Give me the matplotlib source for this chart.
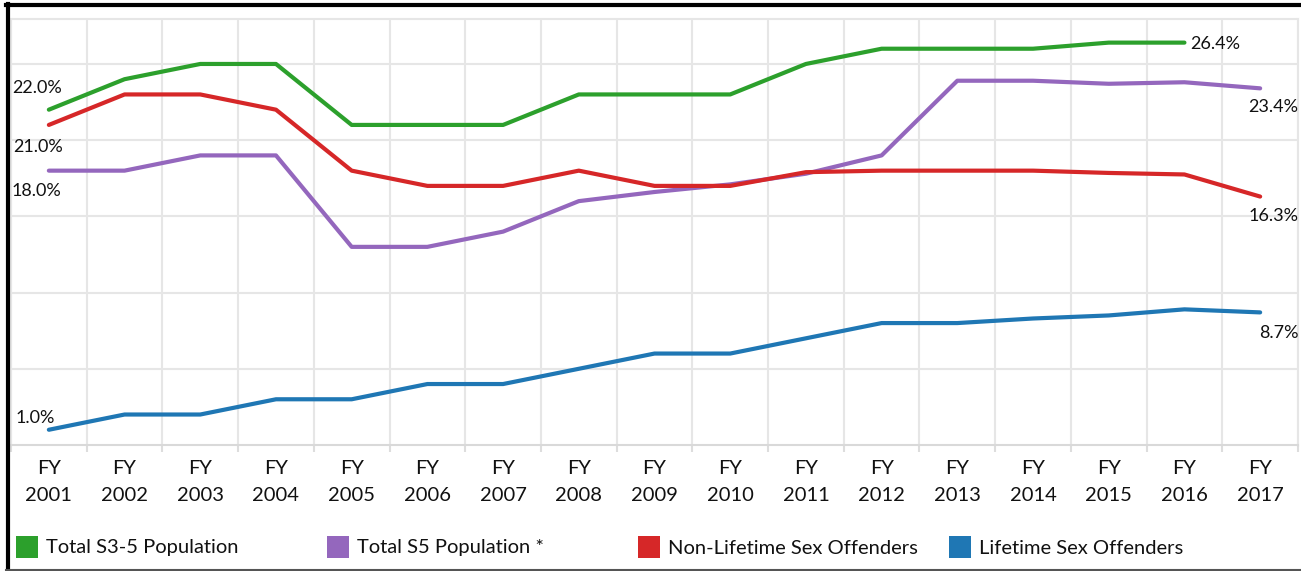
import numpy as np
import matplotlib.pyplot as plt
from matplotlib.patches import Rectangle
from matplotlib.lines import Line2D

'''data'''
years = ['FY\n%d' % y for y in range(2001, 2018)]
total_s35 = [22.0, 24.0, 25.0, 25.0, 21.0, 21.0, 21.0, 23.0, 23.0, 23.0, 25.0, 26.0, 26.0, 26.0, 26.4, 26.4, np.nan]
total_s5 = [18.0, 18.0, 19.0, 19.0, 13.0, 13.0, 14.0, 16.0, 16.6, 17.1, 17.8, 19.0, 23.9, 23.9, 23.7, 23.8, 23.4]
non_lifetime = [21.0, 23.0, 23.0, 22.0, 18.0, 17.0, 17.0, 18.0, 17.0, 17.0, 17.9, 18.0, 18.0, 18.0, 17.85, 17.75, 16.3]
lifetime = [1.0, 2.0, 2.0, 3.0, 3.0, 4.0, 4.0, 5.0, 6.0, 6.0, 7.0, 8.0, 8.0, 8.3, 8.5, 8.9, 8.7]

series = [total_s35, total_s5, non_lifetime, lifetime]
names = ['Total S3-5 Population', 'Total S5 Population *', 'Non-Lifetime Sex Offenders', 'Lifetime Sex Offenders']
colors = ['#2ca02c', '#9467bd', '#d62728', '#1f77b4']

plt.rcParams['font.family'] = ['Lato', 'DejaVu Sans']

fig = plt.figure(figsize=(13.01, 5.71), dpi=100)
ax = fig.add_axes([11/1301, 1-445/571, 1287/1301, 426/571])

x = np.arange(len(years))
for s, c in zip(series, colors):
    ax.plot(x, s, color=c, lw=3, solid_capstyle='round', solid_joinstyle='round', zorder=3)

'''first / last value labels (offsets in pixels)'''
def label(xi, yi, dx, dy, ha='center'):
    ax.annotate('%.1f%%' % yi, (xi, yi), xytext=(dx, dy), textcoords='offset pixels',
                ha=ha, va='center', fontsize=13, color='#111111', zorder=4)

label(0, total_s35[0], -12, 22)
label(0, non_lifetime[0], -11, -22)
label(0, total_s5[0], -12, -20)
label(0, lifetime[0], -14, 12)
label(15, total_s35[15], 6, -1, ha='left')
label(16, total_s5[16], 38, -19, ha='right')
label(16, non_lifetime[16], 38, -19, ha='right')
label(16, lifetime[16], 38, -21, ha='right')

ax.set_xlim(-0.5, len(years) - 0.5)
ax.set_ylim(0, 27.95)
ax.set_yticks([5, 10, 15, 20, 25])
ax.set_yticklabels([])
ax.tick_params(axis='y', length=0)
ax.set_xticks(x)
ax.set_xticklabels(years, fontsize=14.5, color='#111111', linespacing=1.7)
ax.set_xticks(np.arange(-0.5, len(years)), minor=True)
ax.tick_params(axis='x', which='major', length=0, pad=11)
ax.tick_params(axis='x', which='minor', length=5, width=1.5, color='#dddddd')
ax.grid(True, which='minor', axis='x', color='#e6e6e6', lw=1.5)
ax.grid(True, which='major', axis='y', color='#e6e6e6', lw=1.5)
for sp in ax.spines.values():
    sp.set_color('#e6e6e6')
    sp.set_linewidth(1.5)
ax.spines['bottom'].set_color('#d9d9d9')

'''legend'''
W, H = 1301, 571
for i, (n, c) in enumerate(zip(names, colors)):
    x0 = 16 + i * 311
    fig.patches.append(Rectangle((x0/W, 1-558/H), 22/W, 22/H, transform=fig.transFigure,
                                 facecolor=c, edgecolor='none'))
    fig.text((x0 + 30)/W, 1-548/H, n, fontsize=14.5, va='center', ha='left', color='#111111')

'''frame'''
fig.add_artist(Line2D([8/W, 8/W], [0, 1-4/H], color='black', lw=3, transform=fig.transFigure))
fig.add_artist(Line2D([6/W, 1], [1-5/H, 1-5/H], color='black', lw=3, transform=fig.transFigure))
fig.add_artist(Line2D([6/W, 1], [1-570/H, 1-570/H], color='#555555', lw=1.5, transform=fig.transFigure))

plt.savefig('out.png', dpi=100)
